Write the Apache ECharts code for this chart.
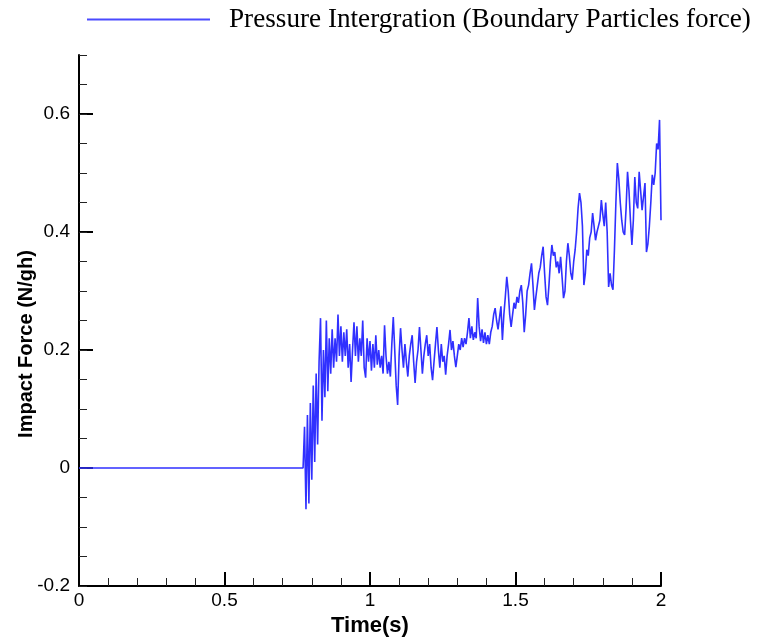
<!DOCTYPE html>
<html>
<head>
<meta charset="utf-8">
<script src="https://cdn.jsdelivr.net/npm/echarts@6/dist/echarts.min.js"></script>
<style>html,body{margin:0;padding:0;background:#fff}#c{width:761px;height:644px}</style>
</head>
<body>
<div id="c"></div>
<script>
// ---- data ----
const seriesName = 'Pressure Intergration (Boundary Particles force)';
const quietTime = [0, 0.77];
const quietForce = [0, 0];
const sampleStart = 0.77;   // first sampled time after onset (s)
const sampleStep = 0.005;   // sampling step (s)
const force = [
  0.00, 0.07, -0.07, 0.09, -0.06, 0.11, -0.02, 0.14, 0.01, 0.16,
  0.04, 0.18, 0.254, 0.08, 0.20, 0.12, 0.25, 0.13, 0.22, 0.16,
  0.235, 0.17, 0.22, 0.18, 0.26, 0.19, 0.24, 0.18, 0.23, 0.19,
  0.235, 0.17, 0.21, 0.146, 0.20, 0.247, 0.19, 0.24, 0.18, 0.22,
  0.19, 0.25, 0.17, 0.153, 0.22, 0.18, 0.215, 0.165, 0.21, 0.17,
  0.225, 0.175, 0.20, 0.17, 0.19, 0.16, 0.242, 0.19, 0.16, 0.18,
  0.155, 0.21, 0.256, 0.20, 0.14, 0.107, 0.19, 0.237, 0.20, 0.17,
  0.21, 0.18, 0.155, 0.19, 0.21, 0.225, 0.18, 0.144, 0.18, 0.20,
  0.239, 0.20, 0.16, 0.19, 0.21, 0.225, 0.19, 0.21, 0.17, 0.149,
  0.18, 0.21, 0.239, 0.20, 0.17, 0.21, 0.18, 0.19, 0.158, 0.19,
  0.21, 0.234, 0.20, 0.215, 0.19, 0.171, 0.19, 0.21, 0.20, 0.22,
  0.205, 0.22, 0.21, 0.23, 0.254, 0.22, 0.24, 0.217, 0.23, 0.22,
  0.288, 0.24, 0.215, 0.235, 0.212, 0.23, 0.21, 0.225, 0.21, 0.23,
  0.24, 0.26, 0.271, 0.25, 0.235, 0.255, 0.274, 0.217, 0.26, 0.29,
  0.324, 0.30, 0.26, 0.239, 0.26, 0.28, 0.27, 0.29, 0.28, 0.30,
  0.31, 0.28, 0.23, 0.26, 0.30, 0.31, 0.33, 0.347, 0.31, 0.268,
  0.29, 0.31, 0.33, 0.34, 0.36, 0.375, 0.33, 0.29, 0.276, 0.31,
  0.35, 0.378, 0.36, 0.366, 0.34, 0.35, 0.33, 0.358, 0.324, 0.288,
  0.30, 0.35, 0.381, 0.36, 0.33, 0.319, 0.35, 0.37, 0.40, 0.44,
  0.466, 0.45, 0.41, 0.31, 0.33, 0.37, 0.36, 0.39, 0.40, 0.432,
  0.41, 0.386, 0.40, 0.41, 0.42, 0.454, 0.43, 0.41, 0.45, 0.40,
  0.307, 0.33, 0.31, 0.302, 0.37, 0.45, 0.517, 0.49, 0.45, 0.42,
  0.40, 0.395, 0.44, 0.502, 0.47, 0.42, 0.378, 0.42, 0.493, 0.45,
  0.44, 0.502, 0.47, 0.437, 0.46, 0.483, 0.366, 0.38, 0.41, 0.45,
  0.497, 0.48, 0.50, 0.55, 0.54, 0.59, 0.42
];
const xTicks = [0, 0.5, 1, 1.5, 2];
const yTicks = [-0.2, 0, 0.2, 0.4, 0.6];
const xTitle = 'Time(s)';
const yTitle = 'Impact Force (N/gh)';

// ---- build series ----
const points = quietTime.map((t, i) => [t, quietForce[i]]);
force.forEach((v, i) => points.push([+(sampleStart + i * sampleStep).toFixed(3), v]));

const chart = echarts.init(document.getElementById('c'), null, {renderer: 'canvas'});
const blue = '#3030ff';
const sans = '"Liberation Sans", Arial, sans-serif';
chart.setOption({
  animation: false,
  backgroundColor: '#fff',
  grid: {left: 79, right: 100, top: 55, bottom: 58, containLabel: false},
  legend: {
    left: 82, top: 1,
    itemWidth: 123, itemHeight: 2, itemGap: 0,
    data: [{name: seriesName, icon: 'rect', itemStyle: {color: '#4a4aff', borderWidth: 0, opacity: 1}}],
    textStyle: {fontFamily: '"Liberation Serif", "Times New Roman", serif', fontSize: 27.2, color: '#000', padding: [0, 0, 0, 14]}
  },
  xAxis: {
    type: 'value', min: 0, max: 2, interval: 0.5,
    axisLine: {show: true, onZero: false, lineStyle: {color: '#000', width: 2}},
    axisTick: {show: true, inside: true, length: 14, lineStyle: {color: '#000', width: 2}, customValues: xTicks},
    minorTick: {show: true, splitNumber: 5, length: 8, lineStyle: {color: '#222', width: 1}},
    splitLine: {show: false},
    axisLabel: {color: '#000', fontSize: 19, fontFamily: sans, margin: 5, customValues: xTicks,
      formatter: v => String(v)},
    name: xTitle, nameLocation: 'middle', nameGap: 25,
    nameTextStyle: {color: '#000', fontSize: 22, fontWeight: 'bold', fontFamily: sans}
  },
  yAxis: [{
    type: 'value', min: -0.2, max: 0.7, interval: 0.2, position: 'left',
    axisLine: {show: true, onZero: false, lineStyle: {color: '#000', width: 2}},
    axisTick: {show: true, inside: true, length: 14, lineStyle: {color: '#000', width: 2}, customValues: yTicks},
    splitLine: {show: false},
    axisLabel: {color: '#000', fontSize: 19, fontFamily: sans, margin: 9, customValues: yTicks,
      formatter: v => String(v)}
  }, {
    type: 'value', min: -0.2, max: 0.7, interval: 0.05, position: 'left', offset: 0,
    axisLine: {show: false, onZero: false},
    axisTick: {show: true, inside: true, length: 8, lineStyle: {color: '#222', width: 1}},
    axisLabel: {show: false},
    splitLine: {show: false}
  }],
  graphic: [{
    type: 'text', x: 26, y: 344, rotation: Math.PI / 2,
    style: {text: yTitle, fill: '#000', font: 'bold 20px "Liberation Sans", Arial, sans-serif', align: 'center', verticalAlign: 'middle'}
  }],
  series: [{
    name: seriesName, type: 'line', data: points, symbol: 'none', smooth: false,
    lineStyle: {color: blue, width: 1.6}, itemStyle: {color: blue}
  }]
});
</script>
</body>
</html>
